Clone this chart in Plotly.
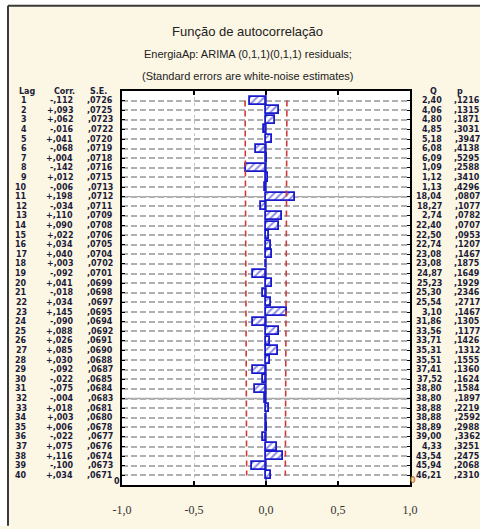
import math
import plotly.graph_objects as go

# Residual autocorrelations, lags 1..40
lags = list(range(1, 41))
corr = [-0.112, 0.093, 0.062, -0.016, 0.041, -0.068, 0.004, -0.142, 0.012, -0.006,
        0.198, -0.034, 0.110, 0.090, 0.022, 0.034, 0.040, 0.003, -0.092, 0.041,
        -0.018, 0.034, 0.145, -0.090, 0.088, 0.026, 0.085, 0.030, -0.092, -0.022,
        -0.075, -0.004, 0.018, 0.003, 0.006, -0.022, 0.075, 0.116, -0.100, 0.034]
# White-noise standard errors per lag
se = [0.0726, 0.0725, 0.0723, 0.0722, 0.0720, 0.0719, 0.0718, 0.0716, 0.0715, 0.0713,
      0.0712, 0.0711, 0.0709, 0.0708, 0.0706, 0.0705, 0.0704, 0.0702, 0.0701, 0.0699,
      0.0698, 0.0697, 0.0695, 0.0694, 0.0692, 0.0691, 0.0690, 0.0688, 0.0687, 0.0685,
      0.0684, 0.0683, 0.0681, 0.0680, 0.0678, 0.0677, 0.0676, 0.0674, 0.0673, 0.0671]
n_obs = 188
major_rows = [11, 32]
x_ticks = [-1.0, -0.5, 0.0, 0.5, 1.0]
x_tick_text = ["-1,0", "-0,5", "0,0", "0,5", "1,0"]

title = "Função de autocorrelação"
subtitle1 = "EnergiaAp: ARIMA (0,1,1)(0,1,1) residuals;"
subtitle2 = "(Standard errors are white-noise estimates)"

BLUE = "#1a1acd"
RED = "#cc3a3a"
CREAM = "#fcf6e4"
TXT = "#1c1c38"

W, H = 480, 529
L, R, T, B = 122, 70, 91, 31
PW, PH = W - L - R, H - T - B


def px_x(px):
    return (px - L) / PW


def px_y(py):
    return (H - B - py) / PH


def chi2_sf(x, k):
    if x <= 0:
        return 1.0
    if k % 2 == 0:
        m = x / 2.0
        term, s = 1.0, 1.0
        for i in range(1, k // 2):
            term *= m / i
            s += term
        return math.exp(-m) * s
    acc, term = 0.0, 1.0
    for i in range(1, (k - 1) // 2 + 1):
        if i > 1:
            term *= x / (2 * i - 1)
        acc += term
    return math.erfc(math.sqrt(x / 2.0)) + math.sqrt(2 * x / math.pi) * math.exp(-x / 2.0) * acc


# Ljung-Box Q and p for the table on the right
q_vals, p_vals = [], []
run = 0.0
for k, r in zip(lags, corr):
    run += r * r / (n_obs - k)
    q = n_obs * (n_obs + 2) * run
    q_vals.append(q)
    p_vals.append(chi2_sf(q, k))


def fmt_dec(v, nd, sign=False):
    s = f"{v:+.{nd}f}" if sign else f"{v:.{nd}f}"
    s = s.replace("0.", ".", 1)
    return s.replace(".", ",")


fig = go.Figure()

fig.add_trace(go.Bar(
    y=lags, x=corr, orientation="h", width=0.84,
    marker=dict(color="white", line=dict(color=BLUE, width=1.8),
                pattern=dict(shape="/", fgcolor=BLUE, bgcolor="white", size=5, solidity=0.4)),
    showlegend=False, hoverinfo="skip"))

for sign in (-1, 1):
    fig.add_trace(go.Scatter(
        x=[sign * 2 * s for s in se], y=lags, mode="lines",
        line=dict(color=RED, width=1.6, dash="6px,4px"),
        showlegend=False, hoverinfo="skip"))

shapes = [
    # white margin outside the frame
    dict(type="rect", xref="paper", yref="paper", x0=px_x(-5), x1=px_x(7), y0=px_y(540), y1=px_y(-5),
         fillcolor="white", line=dict(width=0), layer="below"),
    dict(type="rect", xref="paper", yref="paper", x0=px_x(-5), x1=px_x(490), y0=px_y(2), y1=px_y(-5),
         fillcolor="white", line=dict(width=0), layer="below"),
    # frame
    dict(type="line", xref="paper", yref="paper", x0=px_x(8), x1=px_x(490), y0=px_y(3), y1=px_y(3),
         line=dict(color="#3a3a3a", width=2)),
    dict(type="line", xref="paper", yref="paper", x0=px_x(8), x1=px_x(8), y0=px_y(3), y1=px_y(540),
         line=dict(color="#3a3a3a", width=2)),
    # zero line
    dict(type="line", xref="x", yref="y", x0=0, x1=0, y0=0, y1=41,
         line=dict(color=BLUE, width=1.3), layer="between"),
]
for m in major_rows:
    shapes.append(dict(type="line", xref="paper", yref="y", x0=0, x1=1, y0=m, y1=m,
                       line=dict(color="#a4a4a4", width=1.3), layer="between"))

ann = []
ann.append(dict(text=title, x=px_x(247.5), y=px_y(20), xref="paper", yref="paper",
                showarrow=False, font=dict(family="Liberation Sans, Arial", size=13, color="#222")))
ann.append(dict(text=subtitle1, x=px_x(247.5), y=px_y(45), xref="paper", yref="paper",
                showarrow=False, font=dict(family="Liberation Sans, Arial", size=11, color="#222")))
ann.append(dict(text=subtitle2, x=px_x(247.5), y=px_y(67), xref="paper", yref="paper",
                showarrow=False, font=dict(family="Liberation Sans, Arial", size=11, color="#222")))

tfont = dict(family="DejaVu Sans", size=8, color=TXT, weight="bold")
# headers
for txt, xpx, anchor in [("Lag", 17, "left"), ("Corr.", 52, "left"), ("S.E.", 88, "left"),
                         ("Q", 428, "left"), ("p", 455, "left")]:
    ann.append(dict(text=txt, x=px_x(xpx), y=0.1, xref="paper", yref="y", xanchor=anchor,
                    yanchor="middle", showarrow=False, font=tfont))
# rows
for k, r, s, q, p in zip(lags, corr, se, q_vals, p_vals):
    cells = [(str(k), 29), (fmt_dec(r, 3, sign=True), 75), (fmt_dec(s, 4), 115),
             (fmt_dec(q, 2), 444), (fmt_dec(p, 4), 482)]
    for txt, xr in cells:
        ann.append(dict(text=txt, x=px_x(xr), y=k, xref="paper", yref="y", xanchor="right",
                        yanchor="middle", showarrow=False, font=tfont))
ann.append(dict(text="0", x=px_x(112), y=px_y(501), xref="paper", yref="paper",
                showarrow=False, font=tfont))
ann.append(dict(text="0", x=px_x(418), y=px_y(500), xref="paper", yref="paper",
                showarrow=False, font=dict(family="DejaVu Sans", size=8, color="#d0802a", weight="bold")))

fig.update_layout(
    width=W, height=H, autosize=False,
    margin=dict(l=L, r=R, t=T, b=B, pad=0),
    paper_bgcolor=CREAM, plot_bgcolor="white",
    shapes=shapes, annotations=ann, bargap=0,
    xaxis=dict(range=[-1, 1], tickvals=x_ticks, ticktext=x_tick_text,
               ticks="inside", ticklen=4, tickwidth=1.5, tickcolor="black",
               showline=True, linecolor="black", linewidth=1.6, mirror="ticks",
               showgrid=True, gridcolor="#c4c4c4", griddash="dot", gridwidth=1,
               zeroline=False, ticklabelstandoff=13,
               tickfont=dict(family="Liberation Sans Narrow, Arial Narrow", size=12, color="#333")),
    yaxis=dict(range=[41, 0], tickvals=lags, showticklabels=False,
               ticks="inside", ticklen=3, tickwidth=1.2, tickcolor="black",
               showline=True, linecolor="black", linewidth=1.6, mirror="ticks",
               showgrid=True, gridcolor="#b0b0b0", griddash="6px,3px", gridwidth=1.5,
               zeroline=False),
)

fig.write_html("out.html")
